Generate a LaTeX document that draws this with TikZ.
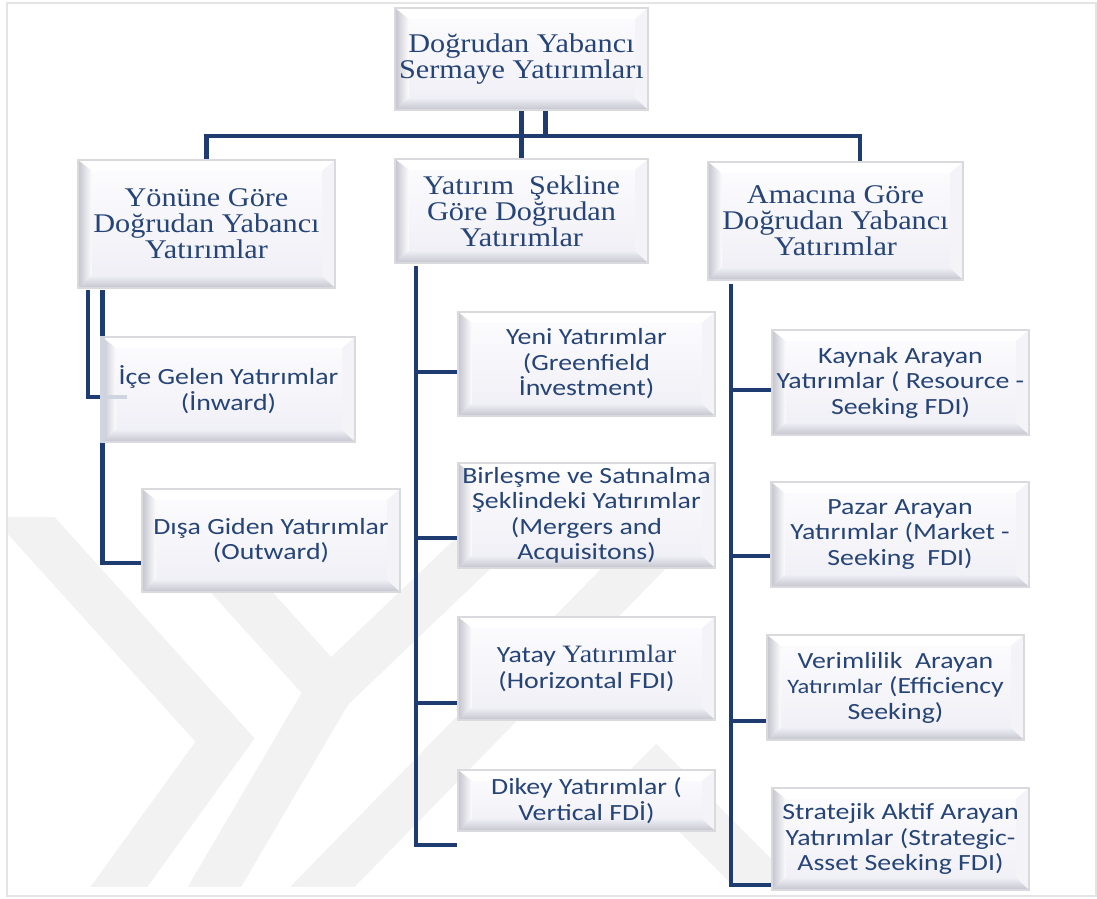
\documentclass[tikz,border=0pt]{standalone}
\usepackage{fontspec}
\newfontfamily\serifft[FakeStretch=1.12]{Liberation Serif}
\newfontfamily\sansft[FakeStretch=1.2]{Carlito}
\usetikzlibrary{calc}
\definecolor{txtblue}{RGB}{38,68,118}
\definecolor{lineblue}{RGB}{31,60,112}
\definecolor{wm}{RGB}{242,242,242}
\definecolor{boxtop}{RGB}{253,253,255}
\definecolor{boxbot}{RGB}{238,238,245}
\definecolor{boxedge}{RGB}{218,218,222}
\definecolor{bevel}{RGB}{196,196,206}
\definecolor{framec}{RGB}{228,228,228}
\tikzset{
  bx/.style={rectangle, inner sep=1pt, align=center, text=txtblue,
    draw=boxedge, line width=2.5pt,
    path picture={
      \coordinate (SW) at (path picture bounding box.south west);
      \coordinate (NE) at (path picture bounding box.north east);
      \coordinate (NW) at (path picture bounding box.north west);
      \coordinate (SE) at (path picture bounding box.south east);
      \shade[top color=boxtop, bottom color=boxbot] (SW) rectangle (NE);
      \fill[white] (NW) -- (NE) -- ($(NE)+(-13pt,-11pt)$) -- ($(NW)+(13pt,-11pt)$) -- cycle;
      \fill[boxbot!70!white] (NE) -- (SE) -- ($(SE)+(-13pt,12pt)$) -- ($(NE)+(-13pt,-11pt)$) -- cycle;
      \shade[left color=bevel, right color=boxtop] (SW) -- (NW) -- ($(NW)+(14pt,-11pt)$) -- ($(SW)+(14pt,12pt)$) -- cycle;
      \shade[bottom color=bevel, top color=boxbot] (SW) -- ($(SW)+(14pt,12pt)$) -- ($(SE)+(-13pt,12pt)$) -- (SE) -- cycle;
    }},
  sz/.style 2 args={minimum width=#1pt, minimum height=#2pt},
  sertxt/.style={font=\serifft\fontsize{27}{26}\selectfont},
  sanstxt/.style={font=\sansft\fontsize{23.2}{25.5}\selectfont},
  conn/.style={draw=lineblue, line width=4.5pt, line join=miter},
  faint/.style={draw=lineblue!22, line width=4.5pt},
}
\begin{document}
\begin{tikzpicture}[x=1pt,y=-1pt]
\useasboundingbox (0,0) rectangle (1097,898);
\fill[white] (0,0) rectangle (1097,898);
% watermark
\begin{scope}
  \clip (8,517) rectangle (1095,886);
  \begin{scope}[wm, line width=46pt, line join=miter]
    \draw (-10,480) -- (225,740) -- (95,920);
    \draw (140,480) -- (330,690) -- (550,480);
    \draw (330,690) -- (195,920);
    \draw (290,920) -- (720,480);
    \draw (640,760) -- (800,920);
  \end{scope}
\end{scope}
\draw[framec, line width=2pt] (7,3) rectangle (1096,896);

% top level nodes
\path
  (521.5,59)  node[bx, sz={253}{102}, sertxt] (top) {Doğrudan Yabancı\\Sermaye Yatırımları}
  (206.5,224) node[bx, sz={257}{128}, sertxt] (l1) {Yönüne Göre\\Doğrudan Yabancı\\Yatırımlar}
  (521.5,211) node[bx, sz={253}{104}, sertxt] (m1) {Yatırım\ \ Şekline\\Göre Doğrudan\\Yatırımlar}
  (835.5,221) node[bx, sz={255}{118}, sertxt] (r1) {Amacına Göre\\Doğrudan Yabancı\\Yatırımlar};
\coordinate (bus) at (0,136);

% connectors top
\draw[conn] (top.south) -- (m1.north);
\draw[conn] ([xshift=24pt]top.south) -- ([xshift=24pt]top.south |- bus);
\draw[conn] (l1.north) -- (l1.north |- bus) -- ($(r1.north |- bus)+(24.5,0)$) -- ($(r1.north)+(24.5,0)$);

% child nodes
\path
  (228.5,389.5) node[bx, sz={253}{105}, sanstxt] (ice) {İçe Gelen Yatırımlar\\(İnward)}
  (271,540.5)   node[bx, sz={258}{103}, sanstxt] (disa) {Dışa Giden Yatırımlar\\(Outward)}
  (586.5,364)   node[bx, sz={257}{104}, sanstxt] (yeni) {Yeni Yatırımlar\\(Greenfield\\İnvestment)}
  (586.5,515.5) node[bx, sz={257}{105}, sanstxt] (birl) {Birleşme ve Satınalma\\Şeklindeki Yatırımlar\\(Mergers and\\Acquisitons)}
  (586.5,668.5) node[bx, sz={257}{103}, sanstxt] (yatay) {Yatay {\serifft\fontsize{25}{25.5}\selectfont Yatırımlar}\\(Horizontal FDI)}
  (586.5,800.5) node[bx, sz={257}{61}, sanstxt] (dikey) {Dikey Yatırımlar (\\Vertical FDİ)}
  (900.5,382.5) node[bx, sz={257}{105}, sanstxt] (kay) {Kaynak Arayan\\Yatırımlar ( Resource -\\Seeking FDI)}
  (900,534.5)   node[bx, sz={258}{105}, sanstxt] (paz) {Pazar Arayan\\Yatırımlar (Market -\\Seeking\ \ FDI)}
  (895.5,687.5) node[bx, sz={257}{105}, sanstxt] (ver) {Verimlilik\ \ Arayan\\{\fontsize{20.5}{25.5}\selectfont Yatırımlar} (Efficiency\\Seeking)}
  (900.5,839)   node[bx, sz={257}{102}, sanstxt] (str) {Stratejik Aktif Arayan\\Yatırımlar (Strategic-\\Asset Seeking FDI)};

% left branch
\coordinate (lv1) at ($(l1.south)+(-118.5,1)$);
\coordinate (lv2) at ($(l1.south)+(-104,1)$);
\coordinate (ib) at ($(ice.west)+(0,7.5)$);
\coordinate (db) at ($(disa.west)+(0,22.5)$);
\draw[conn] (lv1) |- (ib);
\draw[conn] (lv2) |- (db);
\draw[faint] (ib) -- ($(ib)+(26,0)$);
\draw[faint] (lv2 |- ice.north) -- (lv2 |- ice.south);

% middle branch
\coordinate (mv) at ($(m1.south)+(-105.5,2)$);
\coordinate (yb) at ($(yeni.west)+(0,8)$);
\coordinate (bb) at ($(birl.west)+(0,22.5)$);
\coordinate (tb) at ($(yatay.west)+(0,34.5)$);
\coordinate (kb) at ($(dikey.west)+(0,44.5)$);
\draw[conn] (mv) |- (kb);
\draw[conn] (yb) -- (yb -| mv);
\draw[conn] (bb) -- (bb -| mv);
\draw[conn] (tb) -- (tb -| mv);

% right branch
\coordinate (rv) at ($(r1.south)+(-104.5,3)$);
\coordinate (ab) at ($(kay.west)+(0,7.5)$);
\coordinate (pb) at ($(paz.west)+(0,21.5)$);
\coordinate (vb) at ($(ver.west)+(0,33.5)$);
\coordinate (sb) at ($(str.west)+(0,46)$);
\draw[conn] (rv) |- (sb);
\draw[conn] (ab) -- (ab -| rv);
\draw[conn] (pb) -- (pb -| rv);
\draw[conn] (vb) -- (vb -| rv);
\end{tikzpicture}
\end{document}
